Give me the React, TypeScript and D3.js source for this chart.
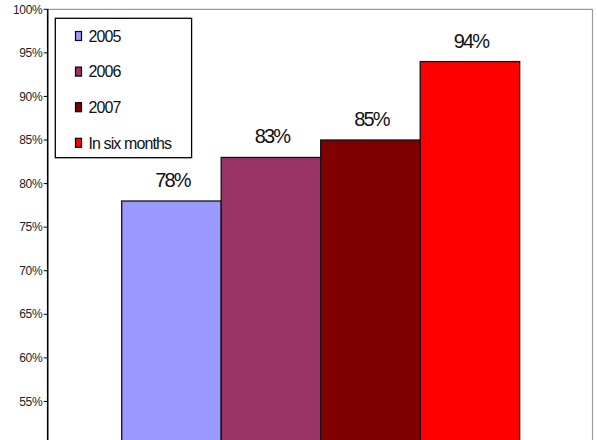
import React from "react";
import * as d3 from "d3";

const seriesNames = ["2005", "2006", "2007", "In six months"];
const seriesValues = [78, 83, 85, 94];
const seriesColors = ["#9999FF", "#993366", "#800000", "#FF0000"];
const yTicks = [50, 55, 60, 65, 70, 75, 80, 85, 90, 95, 100];

const W = 597;
const H = 440;
const plot = { left: 47.7, top: 9.3, right: 592.5, bottom: 445 };
const font = "'Liberation Sans', Arial, sans-serif";

export default function App() {
  const y = d3.scaleLinear().domain([50, 100]).range([plot.bottom, plot.top]);
  const x = d3
    .scaleBand<string>()
    .domain(seriesNames)
    .range([121.7, 519.7])
    .padding(0);

  return (
    <svg
      width={W}
      height={H}
      style={{ position: "absolute", left: 0, top: 0, background: "#fff" }}
      fontFamily={font}
    >
      {/* plot area frame */}
      <line x1={plot.left} x2={plot.right} y1={plot.top} y2={plot.top} stroke="#999" strokeWidth={1.2} />
      <line x1={plot.right} x2={plot.right} y1={plot.top} y2={H + 10} stroke="#999" strokeWidth={1.2} />

      {/* bars */}
      {seriesNames.map((name, i) => (
        <rect
          key={name}
          x={x(name)}
          y={y(seriesValues[i])}
          width={x.bandwidth()}
          height={plot.bottom - y(seriesValues[i])}
          fill={seriesColors[i]}
          stroke="#111"
          strokeWidth={1.3}
        />
      ))}

      {/* value labels */}
      {seriesNames.map((name, i) => (
        <text
          key={name}
          x={(x(name) as number) + x.bandwidth() / 2 + 1}
          y={y(seriesValues[i]) - 14}
          textAnchor="middle"
          fontSize={20}
          letterSpacing={-1.8}
          fill="#111"
        >
          {seriesValues[i]}%
        </text>
      ))}

      {/* y axis */}
      <line x1={plot.left} x2={plot.left} y1={plot.top} y2={H + 10} stroke="#000" strokeWidth={1.6} />
      {yTicks.map((t) => (
        <g key={t} transform={`translate(0,${y(t)})`}>
          <line x1={plot.left - 4} x2={plot.left} stroke="#000" strokeWidth={1} />
          <text
            x={plot.left - 5.5}
            dy="0.35em"
            textAnchor="end"
            fontSize={12}
            letterSpacing={-0.4}
            fill="#222"
          >
            {t}%
          </text>
        </g>
      ))}

      {/* legend */}
      <rect x={55.3} y={18.3} width={136.3} height={139.4} fill="#fff" stroke="#000" strokeWidth={1.3} />
      {seriesNames.map((name, i) => {
        const cy = 36 + i * 35.6;
        return (
          <g key={name}>
            <rect x={75.5} y={cy - 4.5} width={6} height={9} fill={seriesColors[i]} stroke="#000" strokeWidth={1.2} />
            <text x={88.5} y={cy} dy="0.36em" fontSize={16} letterSpacing={-0.9} fill="#111">
              {name}
            </text>
          </g>
        );
      })}
    </svg>
  );
}
